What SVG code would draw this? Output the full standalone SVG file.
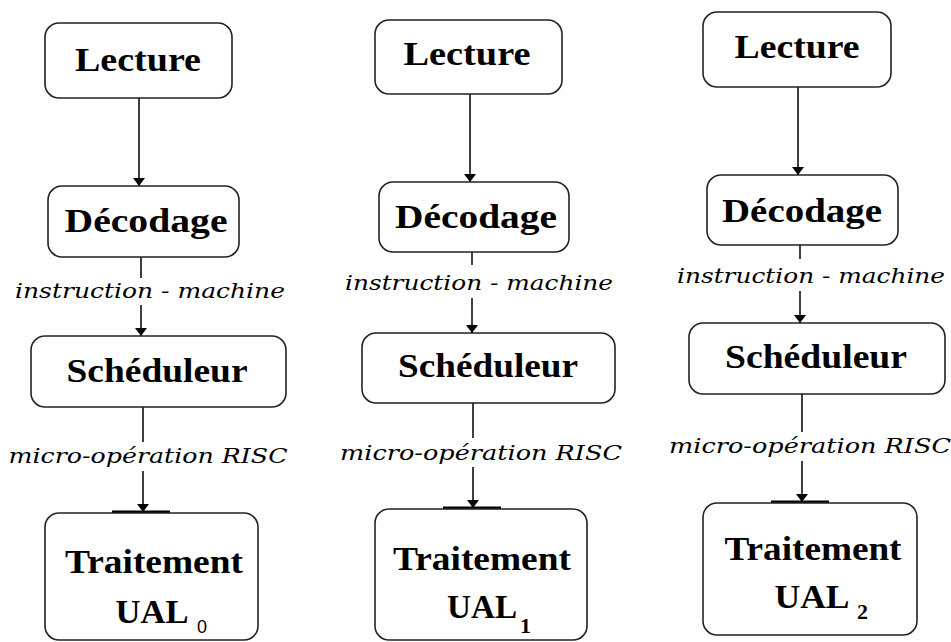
<svg xmlns="http://www.w3.org/2000/svg" width="951" height="642" viewBox="0 0 951 642">
<style>
.box{fill:#fff;stroke:#222;stroke-width:1.6}
.t{font-family:"Liberation Serif","Times New Roman",Times,"DejaVu Serif","Noto Serif",serif;font-weight:bold;font-size:34px;fill:#000;text-anchor:middle}
.sub{font-family:"Liberation Serif","Times New Roman",Times,serif;font-weight:bold;font-size:22px;fill:#000}
.sub0{font-family:"Liberation Sans",Arial,sans-serif;font-size:18px;fill:#000}
.lbl{font-family:"DejaVu Serif","Liberation Serif",Georgia,serif;font-style:italic;font-size:20px;fill:#000;text-anchor:middle}
.ln{stroke:#000;stroke-width:1.5;fill:none}
.bar{stroke:#000;stroke-width:3}
</style>
<defs>
<marker id="ah" viewBox="0 0 8 12" refX="8" refY="6" markerWidth="8" markerHeight="12" markerUnits="userSpaceOnUse" orient="auto">
<path d="M0,0 L8,6 L0,12 Z" fill="#000"/>
</marker>
</defs>
<g id="connectors">
<line class="ln" x1="139" y1="98" x2="139" y2="186" marker-end="url(#ah)"/>
<line class="ln" x1="141" y1="257" x2="141" y2="278"/>
<line class="ln" x1="141" y1="305" x2="141" y2="336" marker-end="url(#ah)"/>
<line class="ln" x1="143" y1="407" x2="143" y2="442"/>
<line class="ln" x1="143" y1="471" x2="143" y2="512" marker-end="url(#ah)"/>
<line class="bar" x1="112" y1="512" x2="170" y2="512"/>
<line class="ln" x1="470" y1="94" x2="470" y2="182" marker-end="url(#ah)"/>
<line class="ln" x1="472" y1="252" x2="472" y2="265"/>
<line class="ln" x1="472" y1="298" x2="472" y2="333" marker-end="url(#ah)"/>
<line class="ln" x1="473" y1="403" x2="473" y2="438"/>
<line class="ln" x1="473" y1="467" x2="473" y2="508" marker-end="url(#ah)"/>
<line class="bar" x1="443" y1="508" x2="501" y2="508"/>
<line class="ln" x1="798" y1="87" x2="798" y2="175" marker-end="url(#ah)"/>
<line class="ln" x1="800" y1="245" x2="800" y2="259"/>
<line class="ln" x1="800" y1="291" x2="800" y2="323" marker-end="url(#ah)"/>
<line class="ln" x1="802" y1="394" x2="802" y2="432"/>
<line class="ln" x1="802" y1="461" x2="802" y2="502" marker-end="url(#ah)"/>
<line class="bar" x1="771" y1="502" x2="829" y2="502"/>
</g>
<g id="labels">
<text class="lbl" x="150" y="298" textLength="270" lengthAdjust="spacingAndGlyphs">instruction - machine</text>
<text class="lbl" x="148" y="463" textLength="279" lengthAdjust="spacingAndGlyphs">micro-opération RISC</text>
<text class="lbl" x="479" y="290" textLength="268" lengthAdjust="spacingAndGlyphs">instruction - machine</text>
<text class="lbl" x="481" y="460" textLength="282" lengthAdjust="spacingAndGlyphs">micro-opération RISC</text>
<text class="lbl" x="811" y="283" textLength="268" lengthAdjust="spacingAndGlyphs">instruction - machine</text>
<text class="lbl" x="810" y="453" textLength="282" lengthAdjust="spacingAndGlyphs">micro-opération RISC</text>
</g>
<g id="lecture0"><rect class="box" x="45" y="23" width="187" height="75" rx="14"/><text class="t" x="138" y="71" textLength="126" lengthAdjust="spacingAndGlyphs">Lecture</text></g>
<g id="decodage0"><rect class="box" x="48" y="186" width="191" height="71" rx="14"/><text class="t" x="146" y="232" textLength="163" lengthAdjust="spacingAndGlyphs">Décodage</text></g>
<g id="scheduleur0"><rect class="box" x="31" y="336" width="255" height="71" rx="14"/><text class="t" x="157" y="382" textLength="181" lengthAdjust="spacingAndGlyphs">Schéduleur</text></g>
<g id="traitement0"><rect class="box" x="45" y="513" width="213" height="127" rx="14"/><text class="t" x="154" y="573" textLength="178" lengthAdjust="spacingAndGlyphs">Traitement</text><text class="t" x="152" y="623" textLength="73" lengthAdjust="spacingAndGlyphs">UAL</text><text class="sub0" x="197" y="633">0</text></g>
<g id="lecture1"><rect class="box" x="375" y="20" width="187" height="74" rx="14"/><text class="t" x="467" y="65" textLength="127" lengthAdjust="spacingAndGlyphs">Lecture</text></g>
<g id="decodage1"><rect class="box" x="379" y="182" width="190" height="70" rx="14"/><text class="t" x="476" y="228" textLength="162" lengthAdjust="spacingAndGlyphs">Décodage</text></g>
<g id="scheduleur1"><rect class="box" x="362" y="333" width="253" height="70" rx="14"/><text class="t" x="488" y="377" textLength="180" lengthAdjust="spacingAndGlyphs">Schéduleur</text></g>
<g id="traitement1"><rect class="box" x="375" y="509" width="212" height="131" rx="14"/><text class="t" x="482" y="570" textLength="178" lengthAdjust="spacingAndGlyphs">Traitement</text><text class="t" x="482" y="618" textLength="70" lengthAdjust="spacingAndGlyphs">UAL</text><text class="sub" x="520" y="633">1</text></g>
<g id="lecture2"><rect class="box" x="703" y="12" width="188" height="75" rx="14"/><text class="t" x="797" y="58" textLength="125" lengthAdjust="spacingAndGlyphs">Lecture</text></g>
<g id="decodage2"><rect class="box" x="707" y="175" width="191" height="70" rx="14"/><text class="t" x="802" y="222" textLength="160" lengthAdjust="spacingAndGlyphs">Décodage</text></g>
<g id="scheduleur2"><rect class="box" x="689" y="323" width="256" height="71" rx="14"/><text class="t" x="816" y="368" textLength="182" lengthAdjust="spacingAndGlyphs">Schéduleur</text></g>
<g id="traitement2"><rect class="box" x="703" y="503" width="214" height="132" rx="14"/><text class="t" x="813" y="560" textLength="177" lengthAdjust="spacingAndGlyphs">Traitement</text><text class="t" x="812" y="608" textLength="75" lengthAdjust="spacingAndGlyphs">UAL</text><text class="sub" x="857" y="619">2</text></g>
</svg>
